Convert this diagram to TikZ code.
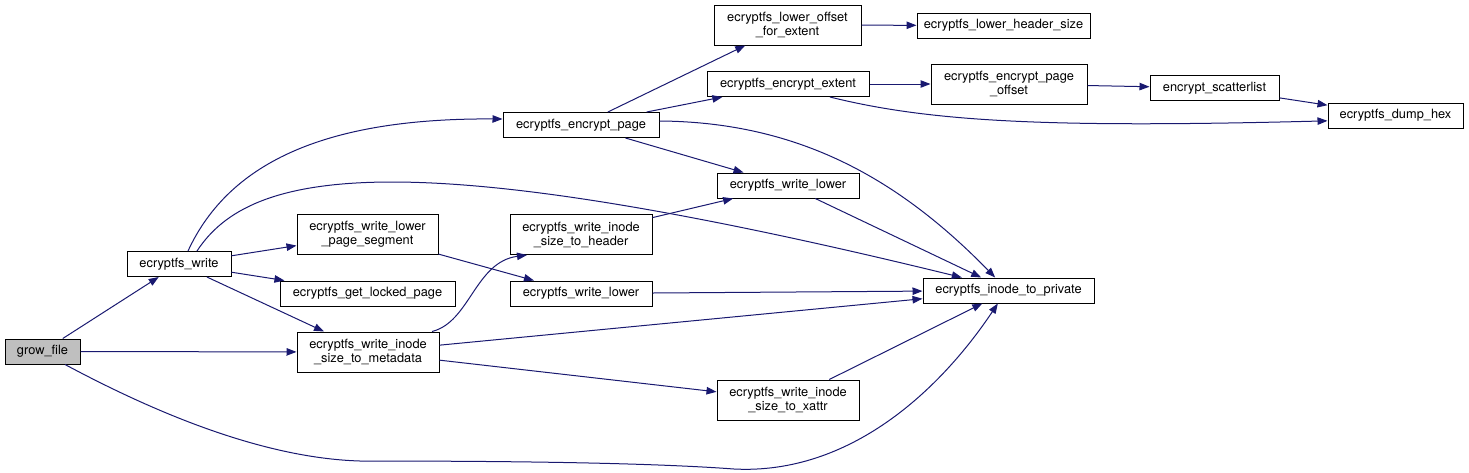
\documentclass[tikz,border=0pt]{standalone}
\usepackage{fontspec}
\setmainfont{TeX Gyre Heros}
\usetikzlibrary{arrows.meta}
\definecolor{edgeblue}{HTML}{191970}
\definecolor{rootgray}{HTML}{BFBFBF}

\begin{document}
\begin{tikzpicture}[
  x=0.75pt, y=-0.75pt,
  font=\fontsize{9.6}{10.5}\selectfont, >={Triangle[length=7.5pt, width=5.6pt]},
  fn/.style={draw, line width=0.75pt, fill=white, align=center, inner xsep=1pt,
             inner ysep=0pt, minimum height=18.75pt},
  fn2/.style={fn, minimum height=30pt},
  root/.style={fn, fill=rootgray},
  call/.style={->, draw=edgeblue, line width=0.75pt}
]
\useasboundingbox (0,0) rectangle (1469,472);

\node[root, minimum width=56.25pt]  (grow)    at (42.5,351.5) {grow\_file};
\node[fn,   minimum width=78pt]     (ewrite)  at (179,264)    {ecryptfs\_write};
\node[fn,   minimum width=117pt]    (encpage) at (581,125)    {ecryptfs\_encrypt\_page};
\node[fn2,  minimum width=110.25pt] (lofe)    at (787.5,25)   {ecryptfs\_lower\_offset\\\_for\_extent};
\node[fn,   minimum width=129.75pt] (lhs)     at (1003.5,25.5) {ecryptfs\_lower\_header\_size};
\node[fn,   minimum width=121.5pt]  (encext)  at (788,84)     {ecryptfs\_encrypt\_extent};
\node[fn2,  minimum width=117pt]    (epo)     at (1009,84)    {ecryptfs\_encrypt\_page\\\_offset};
\node[fn,   minimum width=96.75pt]  (scat)    at (1214.5,88)  {encrypt\_scatterlist};
\node[fn,   minimum width=101.25pt] (dump)    at (1395.5,115.5) {ecryptfs\_dump\_hex};
\node[fn,   minimum width=106.5pt]  (wlower1) at (788,185.5)  {ecryptfs\_write\_lower};
\node[fn2,  minimum width=105.75pt] (lps)     at (367.5,234.5) {ecryptfs\_write\_lower\\\_page\_segment};
\node[fn2,  minimum width=106.5pt]  (header)  at (581,234.5)  {ecryptfs\_write\_inode\\\_size\_to\_header};
\node[fn,   minimum width=131.25pt] (glp)     at (367.5,293.5) {ecryptfs\_get\_locked\_page};
\node[fn,   minimum width=106.5pt]  (wlower2) at (581,293.5)  {ecryptfs\_write\_lower};
\node[fn,   minimum width=128.25pt] (ipriv)   at (1008.5,290.5) {ecryptfs\_inode\_to\_private};
\node[fn2,  minimum width=106.5pt]  (meta)    at (368,352)    {ecryptfs\_write\_inode\\\_size\_to\_metadata};
\node[fn2,  minimum width=106.5pt]  (xattr)   at (788,400)    {ecryptfs\_write\_inode\\\_size\_to\_xattr};

\draw[call] (grow) -- (ewrite);
\draw[call] (grow) -- (meta);
\draw[call] (grow.-30) .. controls (150,410) and (260,458) .. (360,461)
  .. controls (480,461) and (640,462) .. (734,469)
  .. controls (850,475) and (940,390) .. ([xshift=-8pt]ipriv.south);
\draw[call] ([xshift=6.75pt]ewrite.north) .. controls (230,160) and (330,118) .. ([yshift=4.5pt]encpage.west);
\draw[call] ([xshift=13.5pt]ewrite.north) .. controls (250,170) and (400,140) .. ([xshift=-35pt]ipriv.north);
\draw[call] (ewrite) -- (lps);
\draw[call] (ewrite) -- (glp);
\draw[call] (ewrite) -- (meta);
\draw[call] (encpage) -- (lofe);
\draw[call] (encpage) -- (encext);
\draw[call] (encpage) -- (wlower1);
\draw[call] ([yshift=3pt]encpage.east) .. controls (800,122) and (900,180) .. ([xshift=-10pt]ipriv.north);
\draw[call] (lofe) -- (lhs);
\draw[call] (encext) -- (epo);
\draw[call] ([xshift=31.5pt]encext.south) .. controls (930,122) and (1050,128) .. ([yshift=-4pt]dump.west);
\draw[call] (epo) -- (scat);
\draw[call] (scat) -- (dump);
\draw[call] (wlower1) -- (ipriv);
\draw[call] (lps) -- (wlower2);
\draw[call] (header) -- (wlower1);
\draw[call] (wlower2) -- (ipriv);
\draw[call] ([xshift=48pt]meta.north) .. controls (470,322) and (475,262) .. ([xshift=-40.5pt]header.south);
\draw[call] (meta) -- (ipriv);
\draw[call] (meta) -- (xattr);
\draw[call] (xattr) -- (ipriv);
\end{tikzpicture}
\end{document}
